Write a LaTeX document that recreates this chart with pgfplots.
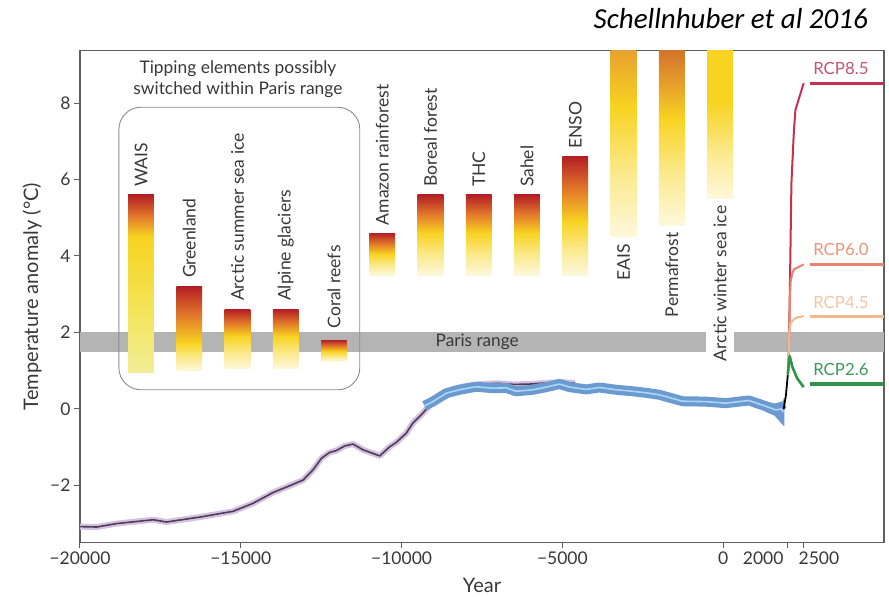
\documentclass[border=0pt]{standalone}
\usepackage{fontspec}
\setmainfont{Lato}
\newfontfamily\titlefont{Carlito}
\usepackage{pgfplots}
\pgfplotsset{compat=1.18}
\definecolor{axgray}{HTML}{5E5E5E}
\definecolor{txtgray}{HTML}{383838}
\definecolor{parisgray}{HTML}{B4B4B4}
\definecolor{boxgray}{HTML}{8C8C8C}
\definecolor{tred}{HTML}{B31E25}
\definecolor{torange}{HTML}{E2782A}
\definecolor{tyellow}{HTML}{F8D321}
\definecolor{tpale}{HTML}{FDF8DC}
\definecolor{tpalemid}{HTML}{FBE98A}
\definecolor{lemon}{HTML}{F3E353}
\definecolor{lemonpale}{HTML}{F3EE98}
\definecolor{eaisorange}{HTML}{E8A12E}
\definecolor{eaismid}{HTML}{F0BB27}
\definecolor{permaorange}{HTML}{D2742A}
\definecolor{permamid}{HTML}{E6A02A}
\definecolor{purpband}{HTML}{D5C0E0}
\definecolor{purpline}{HTML}{4E3C58}
\definecolor{blueband}{HTML}{6B9AD0}
\definecolor{blueline}{HTML}{ACD6F4}
\definecolor{rcpA}{HTML}{C6314F}
\definecolor{rcpB}{HTML}{E8826A}
\definecolor{rcpC}{HTML}{F0BA8E}
\definecolor{rcpD}{HTML}{2F9447}
\definecolor{rcpAt}{HTML}{C2566E}
\definecolor{rcpBt}{HTML}{E8957A}
\definecolor{rcpCt}{HTML}{F2C6A4}
\definecolor{rcpDt}{HTML}{3D9A5A}
% bar segment: x1, x2, lo, hi, top colour, middle colour, bottom colour
\newcommand{\tseg}[7]{%
  \addplot[draw=none, top color=#5, bottom color=#7, middle color=#6]
    coordinates {(#1,#3) (#1,#4) (#2,#4) (#2,#3)} -- cycle;}
\begin{document}
\begin{tikzpicture}
\useasboundingbox (-80pt,-54.7pt) rectangle (809pt,542.3pt);
\begin{axis}[
  scale only axis, width=804pt, height=491.6pt,
  xmin=-20000, xmax=5000, ymin=-3.49, ymax=9.37,
  scaled x ticks=false, scaled y ticks=false,
  axis line style={draw=axgray, line width=1.1pt},
  xtick={-20000,-15000,-10000,-5000,0,2000,2500},
  xticklabels={−20000,−15000,−10000,−5000,0,{\llap{2000\hspace{4pt}}},{\rlap{\hspace{-5pt}2500}}},
  ytick={-2,0,2,4,6,8},
  yticklabels={−2,0,2,4,6,8},
  tick align=outside, xtick pos=bottom, ytick pos=left,
  major tick length=6pt,
  tick style={draw=axgray, line width=1pt},
  ticklabel style={font=\fontsize{17.5}{20}\selectfont, text=txtgray},
  xlabel={Year}, ylabel={Temperature anomaly (°C)},
  label style={font=\fontsize{20}{22}\selectfont, text=txtgray, inner sep=0pt},
  xlabel style={at={(axis description cs:0.5,0)}, anchor=center, yshift=-43.5pt},
  ylabel style={at={(axis description cs:0,0.5)}, anchor=center, yshift=48pt},
  /pgf/number format/assume math mode=true,
]
% Paris range band
\addplot[draw=none, fill=parisgray] coordinates {(-20000,1.5) (-20000,2.0) (-550,2.0) (-550,1.5)} -- cycle;
\addplot[draw=none, fill=parisgray] coordinates {(350,1.5) (350,2.0) (5000,2.0) (5000,1.5)} -- cycle;
\node[anchor=west, text=txtgray, font=\fontsize{17.2}{19}\selectfont] at (axis cs:-9050,1.75) {Paris range};
% box of tipping elements within Paris range
\draw[boxgray, line width=0.9pt, rounded corners=22pt] (axis cs:-18790,0.5) rectangle (axis cs:-11300,7.89);
\node[align=center, text=txtgray, font=\fontsize{17.4}{21.5}\selectfont] at (axis cs:-15090,8.62) {Tipping elements possibly\\switched within Paris range};
% bars
\tseg{-18500}{-17700}{4.5}{5.6}{tred}{torange}{tyellow}
\tseg{-18500}{-17700}{0.95}{4.5}{tyellow}{lemon}{lemonpale}
\tseg{-17000}{-16200}{1.72}{3.2}{tred}{torange}{tyellow}
\tseg{-17000}{-16200}{1.0}{1.72}{tyellow}{tpalemid}{tpale}
\tseg{-15500}{-14700}{1.9}{2.6}{tred}{torange}{tyellow}
\tseg{-15500}{-14700}{1.05}{1.9}{tyellow}{tpalemid}{tpale}
\tseg{-14000}{-13200}{1.9}{2.6}{tred}{torange}{tyellow}
\tseg{-14000}{-13200}{1.05}{1.9}{tyellow}{tpalemid}{tpale}
\tseg{-12500}{-11700}{1.5}{1.8}{tred}{torange}{tyellow}
\tseg{-12500}{-11700}{1.25}{1.5}{tyellow}{tpalemid}{tpale}
\tseg{-11000}{-10200}{4.05}{4.6}{tred}{torange}{tyellow}
\tseg{-11000}{-10200}{3.5}{4.05}{tyellow}{tpalemid}{tpale}
\tseg{-9500}{-8700}{4.6}{5.6}{tred}{torange}{tyellow}
\tseg{-9500}{-8700}{3.5}{4.6}{tyellow}{tpalemid}{tpale}
\tseg{-8000}{-7200}{4.6}{5.6}{tred}{torange}{tyellow}
\tseg{-8000}{-7200}{3.5}{4.6}{tyellow}{tpalemid}{tpale}
\tseg{-6500}{-5700}{4.6}{5.6}{tred}{torange}{tyellow}
\tseg{-6500}{-5700}{3.5}{4.6}{tyellow}{tpalemid}{tpale}
\tseg{-5000}{-4200}{4.9}{6.6}{tred}{torange}{tyellow}
\tseg{-5000}{-4200}{3.5}{4.9}{tyellow}{tpalemid}{tpale}
\tseg{-3500}{-2700}{7.9}{9.37}{eaisorange}{eaismid}{tyellow}
\tseg{-3500}{-2700}{4.5}{7.9}{tyellow}{tpalemid}{tpale}
\tseg{-2000}{-1200}{7.6}{9.37}{permaorange}{permamid}{tyellow}
\tseg{-2000}{-1200}{4.8}{7.6}{tyellow}{tpalemid}{tpale}
\tseg{-500}{300}{8.0}{9.37}{tyellow}{tyellow}{tyellow}
\tseg{-500}{300}{5.5}{8.0}{tyellow}{tpalemid}{tpale}
% bar labels
\begin{scope}[every node/.style={rotate=90, inner sep=0pt, text=txtgray, font=\fontsize{17.5}{20}\selectfont}]
\node[anchor=west] at (axis cs:-18100,5.8) {WAIS};
\node[anchor=west] at (axis cs:-16600,3.42) {Greenland};
\node[anchor=west] at (axis cs:-15100,2.82) {Arctic summer sea ice};
\node[anchor=west] at (axis cs:-13600,2.82) {Alpine glaciers};
\node[anchor=west] at (axis cs:-12100,2.1) {Coral reefs};
\node[anchor=west] at (axis cs:-10600,4.8) {Amazon rainforest};
\node[anchor=west] at (axis cs:-9100,5.8) {Boreal forest};
\node[anchor=west] at (axis cs:-7600,5.8) {THC};
\node[anchor=west] at (axis cs:-6100,5.8) {Sahel};
\node[anchor=west] at (axis cs:-4600,6.8) {ENSO};
\node[anchor=east] at (axis cs:-3100,4.32) {EAIS};
\node[anchor=east] at (axis cs:-1600,4.62) {Permafrost};
\node[anchor=east] at (axis cs:-100,5.32) {Arctic winter sea ice};
\end{scope}
% purple reconstruction
\addplot[purpband, line width=6pt, line join=round] coordinates {
(-20000,-3.08) (-19480,-3.09) (-18860,-3.0) (-17720,-2.90) (-17310,-2.96) (-17000,-2.92)
(-16270,-2.83) (-15240,-2.68) (-14620,-2.47) (-14000,-2.19) (-13480,-2.01) (-13060,-1.86)
(-12750,-1.59) (-12490,-1.29) (-12240,-1.14) (-12030,-1.09) (-11770,-0.97) (-11510,-0.92)
(-11200,-1.07) (-10680,-1.23) (-10370,-0.99) (-10170,-0.88) (-9860,-0.64) (-9650,-0.37)
(-9340,-0.11) (-9100,0.12) (-8800,0.35) (-8400,0.52) (-8000,0.60) (-7500,0.65) (-7000,0.67)
(-6500,0.64) (-6000,0.65) (-5500,0.68) (-5000,0.70) (-4600,0.67)};
\addplot[purpline, line width=1.6pt, line join=round] coordinates {
(-20000,-3.08) (-19480,-3.09) (-18860,-3.0) (-17720,-2.90) (-17310,-2.96) (-17000,-2.92)
(-16270,-2.83) (-15240,-2.68) (-14620,-2.47) (-14000,-2.19) (-13480,-2.01) (-13060,-1.86)
(-12750,-1.59) (-12490,-1.29) (-12240,-1.14) (-12030,-1.09) (-11770,-0.97) (-11510,-0.92)
(-11200,-1.07) (-10680,-1.23) (-10370,-0.99) (-10170,-0.88) (-9860,-0.64) (-9650,-0.37)
(-9340,-0.11) (-9100,0.12) (-8800,0.35) (-8400,0.52) (-8000,0.60) (-7500,0.65) (-7000,0.67)
(-6500,0.64) (-6000,0.65) (-5500,0.68) (-5000,0.70) (-4600,0.67)};
% blue reconstruction
\addplot[draw=none, fill=blueband] coordinates {
(1300,0.2) (1600,0.14) (1850,0.2) (1900,0.3) (1900,-0.45) (1850,-0.42) (1600,-0.18) (1300,-0.07)} -- cycle;
\addplot[blueband, line width=10pt, line join=round, line cap=butt] coordinates {
(-9290,0.08) (-9030,0.19) (-8610,0.41) (-8200,0.50) (-7680,0.58) (-7160,0.54) (-6750,0.55)
(-6440,0.46) (-5920,0.50) (-5500,0.57) (-5090,0.65) (-4780,0.57) (-4260,0.51) (-3850,0.56)
(-3330,0.50) (-2810,0.46) (-2400,0.42) (-1990,0.37) (-1260,0.20) (-540,0.19) (80,0.15)
(800,0.22) (1320,0.07) (1640,-0.03) (1800,0.0) (1880,-0.05)};
\addplot[blueline, line width=1.6pt, line join=round] coordinates {
(-9290,0.08) (-9030,0.19) (-8610,0.41) (-8200,0.50) (-7680,0.58) (-7160,0.54) (-6750,0.55)
(-6440,0.46) (-5920,0.50) (-5500,0.57) (-5090,0.65) (-4780,0.57) (-4260,0.51) (-3850,0.56)
(-3330,0.50) (-2810,0.46) (-2400,0.42) (-1990,0.37) (-1260,0.20) (-540,0.19) (80,0.15)
(800,0.22) (1320,0.07) (1640,-0.03) (1800,0.0) (1870,-0.08)};
% instrumental
\addplot[black, line width=1.8pt] coordinates {(1880,0.0) (1950,0.35) (2010,0.9)};
% RCP scenarios
\addplot[rcpA, line width=2pt, line join=round] coordinates {(2010,0.9) (2040,1.5) (2080,3.5) (2121,5.9) (2200,7.3) (2246,7.82) (2503,8.52)};
\addplot[rcpB, line width=2pt, line join=round] coordinates {(2010,0.9) (2040,1.5) (2080,3.0) (2100,3.35) (2150,3.55) (2200,3.65) (2503,3.78)};
\addplot[rcpC, line width=2pt, line join=round] coordinates {(2010,0.9) (2040,1.5) (2060,2.05) (2100,2.25) (2250,2.38) (2503,2.43)};
\addplot[rcpD, line width=2.6pt, line join=round] coordinates {(2010,0.9) (2040,1.2) (2069,1.38) (2150,1.1) (2300,0.8) (2503,0.57)};
\addplot[rcpA, line width=3.2pt] coordinates {(2690,8.52) (5000,8.52)};
\addplot[rcpB, line width=3.2pt] coordinates {(2690,3.78) (5000,3.78)};
\addplot[rcpC, line width=3.2pt] coordinates {(2690,2.41) (5000,2.41)};
\addplot[rcpD, line width=3.2pt] coordinates {(2690,0.65) (5000,0.65)};
\begin{scope}[every node/.style={anchor=south west, inner sep=0pt, font=\fontsize{16.8}{19}\selectfont}]
\node[text=rcpAt] at (axis cs:2795,8.75) {RCP8.5};
\node[text=rcpBt] at (axis cs:2795,4.0) {RCP6.0};
\node[text=rcpCt] at (axis cs:2795,2.63) {RCP4.5};
\node[text=rcpDt] at (axis cs:2795,0.87) {RCP2.6};
\end{scope}
\end{axis}
\node[anchor=base east, inner sep=0pt, text=black, font=\titlefont\itshape\fontsize{29}{33}\selectfont] at (788pt,514pt) {Schellnhuber et al 2016};
\end{tikzpicture}
\end{document}
